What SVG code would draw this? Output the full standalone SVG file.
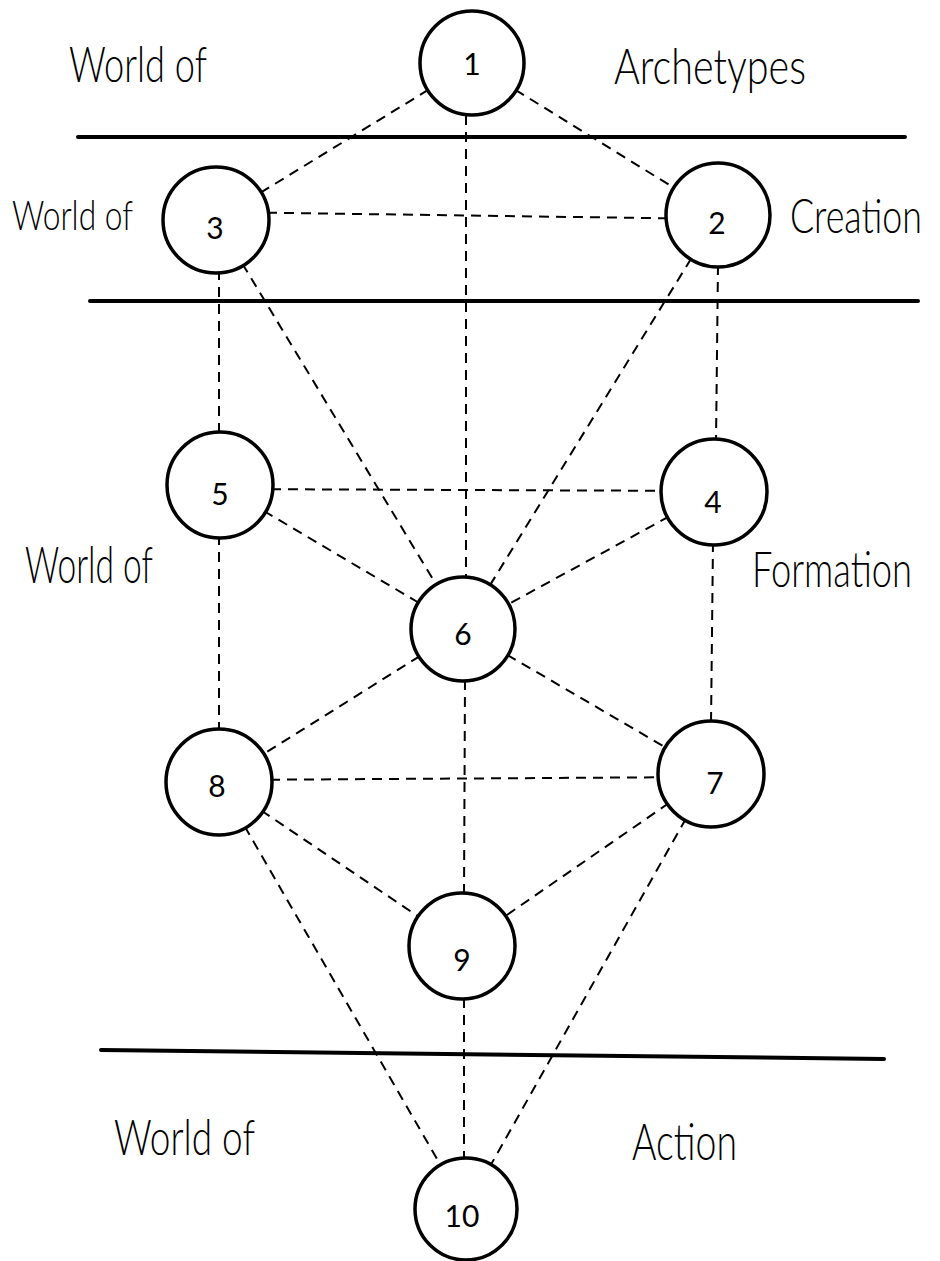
<svg xmlns="http://www.w3.org/2000/svg" width="940" height="1261" viewBox="0 0 940 1261">
<style>
.bg{fill:#ffffff}
.rule{stroke:#000;stroke-width:4;fill:none;stroke-linecap:round}
.edge{stroke:#000;stroke-width:2;stroke-dasharray:10 7;fill:none}
.node circle{fill:#fff;stroke:#000;stroke-width:3.5}
.num{font-family:Lato,"Open Sans","DejaVu Sans",sans-serif;font-weight:400;font-size:30px;fill:#000;text-anchor:middle}
.lbl{font-family:Lato,"Open Sans","DejaVu Sans",sans-serif;font-weight:300;fill:#000}
</style>
<rect class="bg" x="0" y="0" width="940" height="1261"/>
<g id="rules">
<line class="rule" x1="78" y1="137" x2="905" y2="137"/>
<line class="rule" x1="90" y1="301" x2="918" y2="301"/>
<line class="rule" x1="101" y1="1050" x2="884" y2="1059"/>
</g>
<g id="labels">
<text class="lbl" x="69" y="82" font-size="50" textLength="138" lengthAdjust="spacingAndGlyphs">World of</text>
<text class="lbl" x="614" y="84" font-size="50" textLength="192" lengthAdjust="spacingAndGlyphs">Archetypes</text>
<text class="lbl" x="12" y="230" font-size="42" textLength="121" lengthAdjust="spacingAndGlyphs">World of</text>
<text class="lbl" transform="translate(790,233) scale(1,1.22)" x="0" y="0" font-size="38" textLength="132" lengthAdjust="spacingAndGlyphs">Creation</text>
<text class="lbl" x="25" y="583" font-size="52" textLength="128" lengthAdjust="spacingAndGlyphs">World of</text>
<text class="lbl" transform="translate(752,587) scale(1,1.25)" x="0" y="0" font-size="40" textLength="160" lengthAdjust="spacingAndGlyphs">Formation</text>
<text class="lbl" x="114" y="1155" font-size="50" textLength="141" lengthAdjust="spacingAndGlyphs">World of</text>
<text class="lbl" x="632" y="1160" font-size="52" textLength="105" lengthAdjust="spacingAndGlyphs">Action</text>
</g>
<g id="connectors">
<line class="edge" x1="472" y1="63" x2="216" y2="220"/>
<line class="edge" x1="472" y1="63" x2="718" y2="215"/>
<line class="edge" x1="466" y1="115" x2="466" y2="580"/>
<line class="edge" x1="216" y1="212" x2="718" y2="219"/>
<line class="edge" x1="219" y1="270" x2="219" y2="435"/>
<line class="edge" x1="216" y1="220" x2="463" y2="629"/>
<line class="edge" x1="718" y1="215" x2="463" y2="629"/>
<line class="edge" x1="718" y1="265" x2="716" y2="442"/>
<line class="edge" x1="220" y1="489" x2="714" y2="491"/>
<line class="edge" x1="220" y1="485" x2="463" y2="629"/>
<line class="edge" x1="714" y1="492" x2="463" y2="629"/>
<line class="edge" x1="219" y1="535" x2="219" y2="732"/>
<line class="edge" x1="713" y1="542" x2="711" y2="724"/>
<line class="edge" x1="463" y1="629" x2="219" y2="782"/>
<line class="edge" x1="463" y1="629" x2="711" y2="774"/>
<line class="edge" x1="465" y1="680" x2="464" y2="895"/>
<line class="edge" x1="219" y1="780" x2="711" y2="777"/>
<line class="edge" x1="219" y1="782" x2="462" y2="946"/>
<line class="edge" x1="711" y1="774" x2="462" y2="946"/>
<line class="edge" x1="219" y1="782" x2="466" y2="1209"/>
<line class="edge" x1="711" y1="774" x2="466" y2="1209"/>
<line class="edge" x1="464" y1="998" x2="464" y2="1158"/>
</g>
<g id="node-1" class="node"><circle cx="472" cy="63" r="52"/><text class="num" x="472" y="75">1</text></g>
<g id="node-2" class="node"><circle cx="718" cy="215" r="52"/><text class="num" x="717" y="234">2</text></g>
<g id="node-3" class="node"><circle cx="216" cy="220" r="53"/><text class="num" x="215" y="239">3</text></g>
<g id="node-4" class="node"><circle cx="714" cy="492" r="53"/><text class="num" x="713" y="513">4</text></g>
<g id="node-5" class="node"><circle cx="220" cy="485" r="53"/><text class="num" x="220" y="505">5</text></g>
<g id="node-6" class="node"><circle cx="463" cy="629" r="52"/><text class="num" x="463" y="645">6</text></g>
<g id="node-7" class="node"><circle cx="711" cy="774" r="53"/><text class="num" x="715" y="794">7</text></g>
<g id="node-8" class="node"><circle cx="219" cy="782" r="53"/><text class="num" x="217" y="797">8</text></g>
<g id="node-9" class="node"><circle cx="462" cy="946" r="53"/><text class="num" x="462" y="971">9</text></g>
<g id="node-10" class="node"><circle cx="466" cy="1209" r="51"/><text class="num" x="462" y="1227">10</text></g>
</svg>
